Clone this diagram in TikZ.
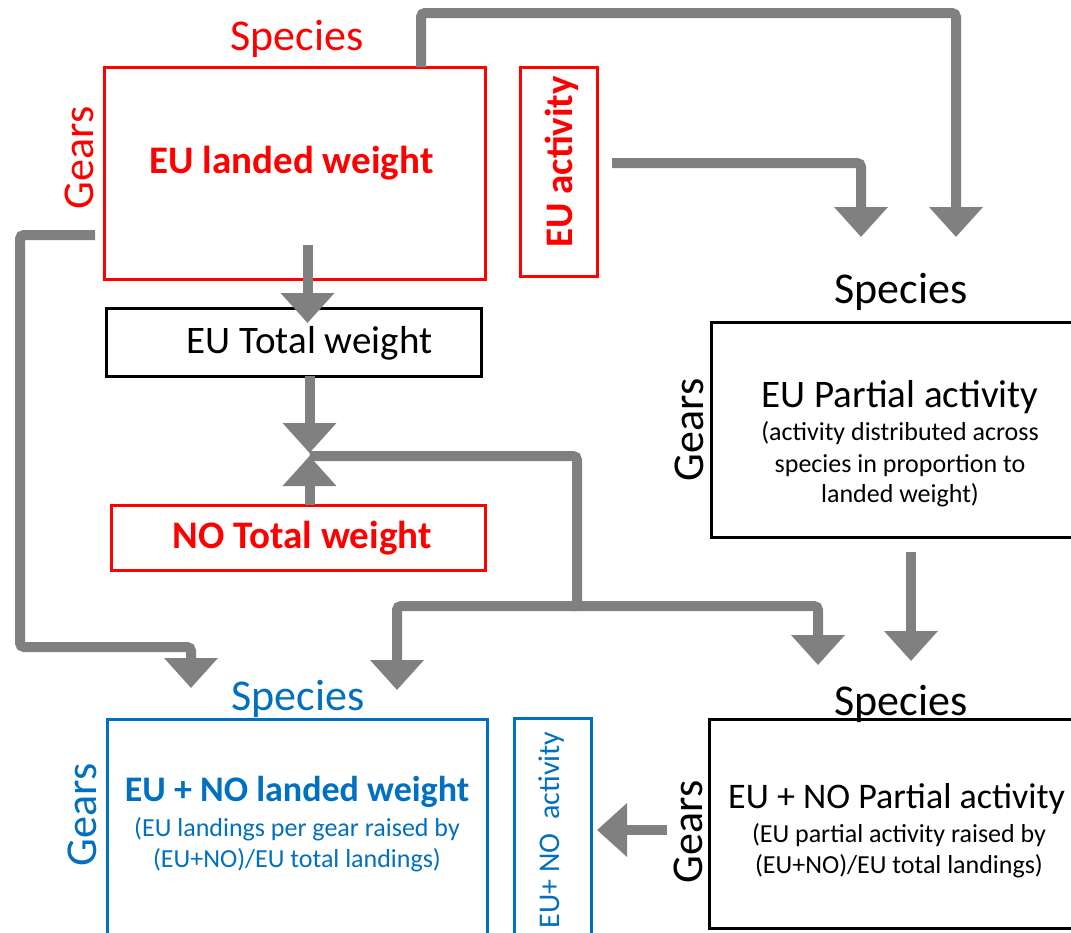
\documentclass[tikz,border=0pt]{standalone}
\usepackage{fontspec}
\setmainfont{Carlito}
\usetikzlibrary{arrows.meta}
\definecolor{gr}{RGB}{128,128,128}
\definecolor{bl}{RGB}{0,112,192}
\definecolor{rd}{RGB}{255,0,0}
\begin{document}
\begin{tikzpicture}[x=1pt,y=-1pt,
  box/.style={draw,line width=3pt,inner sep=0pt,rectangle},
  flow/.style={draw=gr,line width=10pt,rounded corners=4pt,-{Triangle[width=52pt,length=30pt]}},
  flowplain/.style={draw=gr,line width=10pt,rounded corners=4pt},
  axis/.style={font=\fontsize{44}{50}\selectfont,inner sep=0pt},
  ttl/.style={font=\fontsize{39}{44}\selectfont,inner sep=0pt},
  ttlb/.style={font=\fontsize{39}{44}\selectfont\bfseries,inner sep=0pt},
  sm/.style={font=\fontsize{26}{31}\selectfont,inner sep=0pt}]
\clip (0,0) rectangle (1071,932);
\fill[white] (0,0) rectangle (1071,932);

% boxes
\node[box,draw=rd,minimum width=381pt,minimum height=212pt] (lw) at (294.5,173) {};
\node[box,draw=rd,minimum width=77pt,minimum height=209pt] (act) at (558.5,171.5) {};
\node[box,draw=black,minimum width=375pt,minimum height=68pt] (et) at (293.5,342) {};
\node[box,draw=rd,minimum width=374pt,minimum height=65pt] (nt) at (298,537.5) {};
\node[box,draw=black,minimum width=369pt,minimum height=215pt] (pa) at (895.5,429.5) {};
\node[box,draw=bl,minimum width=380pt,minimum height=230pt] (enl) at (297,834) {};
\node[box,draw=bl,minimum width=77pt,minimum height=230pt] (ena) at (552.5,833) {};
\node[box,draw=black,minimum width=376pt,minimum height=209pt] (enp) at (897,823.5) {};

% texts top-left
\node[axis,text=rd,anchor=base] (sp1) at (297,50) {Species};
\node[axis,text=rd,rotate=90] (ge1) at (79,158) {Gears};
\node[ttlb,text=rd,anchor=base] (t1) at (291.5,173) {EU landed weight};
\node[ttlb,text=rd,rotate=90] (t2) at (562,162) {EU activity};
\node[ttl,anchor=base] (t3) at (309.5,353) {EU Total weight};
\node[ttlb,text=rd,anchor=base] (t4) at (302,548) {NO Total weight};

% texts top-right
\node[axis,anchor=base] (sp2) at (901,303) {Species};
\node[axis,rotate=90] (ge2) at (689.5,430) {Gears};
\node[ttl,anchor=base] (t5) at (900,407) {EU Partial activity};
\node[sm,anchor=base] (t5a) at (900,440) {(activity distributed across};
\node[sm,anchor=base] (t5b) at (900,472) {species in proportion to};
\node[sm,anchor=base] (t5c) at (900,502) {landed weight)};

% texts bottom-left
\node[axis,text=bl,anchor=base] (sp3) at (298,710) {Species};
\node[axis,text=bl,rotate=90] (ge3) at (82,815) {Gears};
\node[font=\fontsize{36}{41}\selectfont\bfseries,inner sep=0pt,text=bl,anchor=base] (t6) at (297,801) {EU + NO landed weight};
\node[sm,text=bl,anchor=base] (t6a) at (297,836) {(EU landings per gear raised by};
\node[sm,text=bl,anchor=base] (t6b) at (297,867) {(EU+NO)/EU total landings)};
\node[font=\fontsize{30}{34}\selectfont,inner sep=0pt,text=bl,rotate=90] (t7) at (552,830) {EU+ NO\ \ activity};

% texts bottom-right
\node[axis,anchor=base] (sp4) at (901,715) {Species};
\node[axis,rotate=90] (ge4) at (688,832) {Gears};
\node[font=\fontsize{36}{41}\selectfont,inner sep=0pt,anchor=base west] (t8) at (728,808) {EU + NO Partial activity};
\node[sm,anchor=base] (t8a) at (899,842) {(EU partial activity raised by};
\node[sm,anchor=base] (t8b) at (899,873) {(EU+NO)/EU total landings)};

% connector end points
\coordinate (a1s) at (421,67);
\coordinate (a1e) at (956,237);
\coordinate (a2s) at (612,163);
\coordinate (a2e) at (861,237);
\coordinate (a3s) at (95,235);
\coordinate (a3e) at (191,688);
\coordinate (a4s) at (307.5,245);
\coordinate (a4e) at (307.5,323);
\coordinate (a5s) at (309.5,376);
\coordinate (jn) at (309.5,453);
\coordinate (a6s) at (309.5,505);
\coordinate (jn2) at (309.5,456);
\coordinate (sp) at (577,606);
\coordinate (a7e) at (397,690);
\coordinate (a8e) at (818,665);
\coordinate (a9s) at (911,552);
\coordinate (a9e) at (911,661);
\coordinate (a10s) at (667,830);
\coordinate (a10e) at (597,830);

\draw[flow] (a1s) -- (421,13) -- (956,13) -- (a1e);
\draw[flow] (a2s) -- (861,163) -- (a2e);
\draw[flow] (a3s) -- (20,235) -- (20,647) -- (191,647) -- (a3e);
\draw[flow] (a4s) -- (a4e);
\draw[flow] (a5s) -- (jn);
\draw[flow] (a6s) -- (jn2);
\draw[flowplain] (jn2) -- (577,456) -- (sp);
\draw[flow] (sp) -- (397,606) -- (a7e);
\draw[flow] (572,606) -- (818,606) -- (a8e);
\draw[flow] (a9s) -- (a9e);
\draw[flow] (a10s) -- (a10e);
\end{tikzpicture}
\end{document}
